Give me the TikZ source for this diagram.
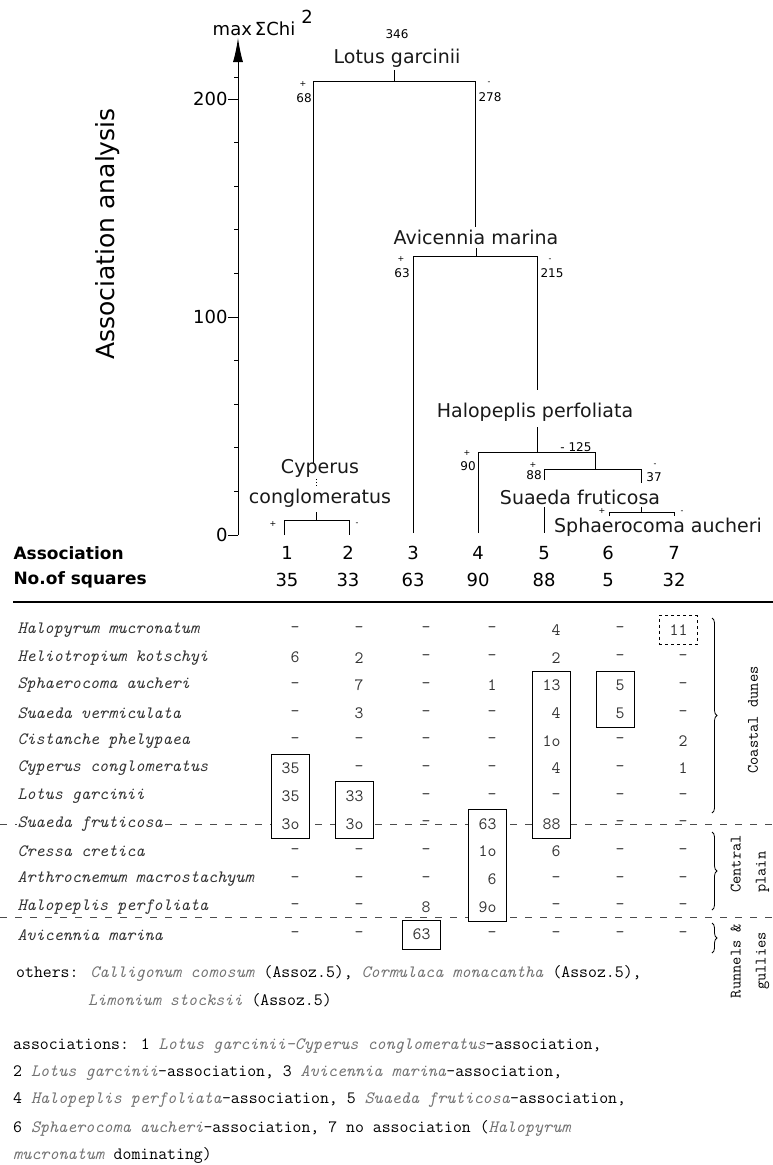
\documentclass[tikz,border=0pt]{standalone}
\usepackage{fontspec}
\setsansfont{DejaVu Sans}
\usetikzlibrary{arrows.meta,positioning,fit,decorations.pathreplacing}
\pgfdeclarelayer{background}
\pgfsetlayers{background,main}
\newcommand{\taxit}[1]{\textcolor{black!55}{\textit{#1}}}

\begin{document}
\begin{tikzpicture}[x=1pt,y=-1pt,line width=1pt,
  taxon/.style={font=\sffamily\fontsize{19}{30}\selectfont,text=black!90,inner sep=0pt,align=center},
  chi/.style={font=\sffamily\fontsize{12}{14}\selectfont,inner sep=0pt},
  sgn/.style={font=\sffamily\fontsize{8}{10}\selectfont,inner sep=0pt},
  axlab/.style={font=\sffamily\fontsize{18}{20}\selectfont,inner sep=0pt},
  hdr/.style={font=\sffamily\bfseries\fontsize{17}{20}\selectfont,inner sep=0pt,anchor=west},
  colnum/.style={font=\sffamily\fontsize{18}{20}\selectfont,inner sep=0pt},
  species/.style={font=\ttfamily\itshape\fontsize{17.3}{20}\selectfont,text=black!80,anchor=west,inner xsep=1pt,inner ysep=0pt,fill=white},
  cell/.style={font=\ttfamily\fontsize{17.3}{20}\selectfont,text=black!80,text width=19pt,align=right,inner xsep=9pt,inner ysep=0pt,minimum height=28pt},
  valbox/.style={draw,line width=0.8pt,fill=white,inner sep=0pt},
  zone/.style={decorate,decoration={brace,amplitude=5pt},line width=0.8pt},
  zonelab/.style={font=\ttfamily\fontsize{16}{25}\selectfont,rotate=90,inner sep=0pt},
  note/.style={font=\ttfamily\fontsize{17.3}{20}\selectfont,anchor=west,inner sep=0pt},
  sep/.style={dash pattern=on 7pt off 8pt,line width=1pt,black!70}]
\useasboundingbox (0,0) rectangle (773,1165);

% Axis
\coordinate (y0) at (238,535);
\coordinate (ytop) at (238,38);
\draw[-{Latex[length=24pt,width=10pt]}] (y0) -- (ytop);
\foreach \v in {0,100,200}
  \draw (238,{535-2.18*\v}) -- ++(-10,0) node[axlab,anchor=east] (t\v) {\v};
\foreach \v in {20,40,60,80,120,140,160,180,210}
  \draw (238,{535-2.18*\v}) -- ++(-4,0);
\node[axlab] (ymax) at (254,29) {max\,ΣChi};
\node[axlab] (ysq) at (307,17) {2};
\node[font=\sffamily\fontsize{25}{28}\selectfont,rotate=90,inner sep=0pt] (title) at (108,234) {Association analysis};

% Dendrogram labels
\node[taxon] (lotus) at (397,58) {Lotus garcinii};
\node[chi] (c346) at (397,34) {346};
\node[taxon] (avi) at (476,237) {Avicennia marina};
\node[taxon] (hal) at (535,412) {Halopeplis perfoliata};
\node[taxon] (cyp) at (320,483) {Cyperus\\conglomeratus};
\node[taxon] (sua) at (580,497) {Suaeda fruticosa};
\node[taxon] (sph) at (658,527) {Sphaerocoma aucheri};

% Junctions
\coordinate (lotusT) at (394,70);  \coordinate (lotusJ) at (394,81);
\coordinate (lotusL) at (313,81);  \coordinate (lotusR) at (475,81);
\coordinate (cypT) at (313,463);   \coordinate (aviT) at (475,227);
\coordinate (cypJT) at (316,512);  \coordinate (cypJ) at (316,520);
\coordinate (cypL) at (284,520);   \coordinate (cypR) at (349,520);
\coordinate (l1) at (284,535);     \coordinate (l2) at (349,535);
\coordinate (aviJT) at (476,248);  \coordinate (aviJ) at (476,256);
\coordinate (aviL) at (413,256);   \coordinate (aviR) at (537,256);
\coordinate (l3) at (413,533);     \coordinate (halT) at (537,390);
\coordinate (halJT) at (537,427);  \coordinate (halJ) at (537,452);
\coordinate (halL) at (478,452);   \coordinate (halR) at (595,452);
\coordinate (l4) at (478,533);     \coordinate (suaT) at (595,469);
\coordinate (suaL) at (544,469);   \coordinate (suaR) at (641,469);
\coordinate (suaL1) at (544,480);  \coordinate (suaR1) at (641,483);
\coordinate (l5top) at (544,507);  \coordinate (l5) at (544,533);
\coordinate (sphJT) at (641,507);  \coordinate (sphJ) at (641,512);
\coordinate (sphL) at (609,512);   \coordinate (sphR) at (674,512);
\coordinate (l6) at (609,516);     \coordinate (l7) at (674,516);

% Dendrogram
\draw (lotusT) -- (lotusJ);
\draw (cypT) -- (lotusL) -- (lotusR) -- (aviT);
\draw[dotted] (316,479) -- (316,487);
\draw (cypJT) -- (cypJ);
\draw (l1) -- (cypL) -- (cypR) -- (l2);
\draw (aviJT) -- (aviJ);
\draw (l3) -- (aviL) -- (aviR) -- (halT);
\draw (halJT) -- (halJ);
\draw (l4) -- (halL) -- (halR) -- (suaT);
\draw (suaL1) -- (suaL) -- (suaR) -- (suaR1);
\draw (l5top) -- (l5);
\draw (sphJT) -- (sphJ);
\draw (l6) -- (sphL) -- (sphR) -- (l7);

% Signs and chi values
\foreach \x/\y/\s [count=\k] in {303/84/+,489/83/-,401/259/+,550/260/-,467/453/+,533/465/+,655/465/-,273/524/+,357/524/-,602/511/+,682/512/-}
  \node[sgn] (sg\k) at (\x,\y) {\s};
\foreach \x/\y/\s [count=\k] in {304/98/68,490/97/278,402/273/63,552/273/215,468/466/90,576/447/- 125,534/475/88,654/477/37}
  \node[chi] (cv\k) at (\x,\y) {\s};

% Associations
\node[hdr] (assoc) at (13,553) {Association};
\node[hdr] (nsq) at (13,580) {No.of squares};
\foreach \i/\x/\n in {1/287/35,2/348/33,3/413/63,4/478/90,5/544/88,6/608/5,7/674/32} {
  \node[colnum] (an\i) at (\x,553) {\i};
  \node[colnum] (nq\i) at (\x,580) {\n};
}
\coordinate (hl) at (13,602);
\coordinate (hr) at (773,602);
\draw[line width=1.5pt] (hl) -- (hr);

% Table
\foreach \name [count=\r] in {Halopyrum mucronatum,Heliotropium kotschyi,Sphaerocoma aucheri,Suaeda vermiculata,Cistanche phelypaea,Cyperus conglomeratus,Lotus garcinii,Suaeda fruticosa,Cressa cretica,Arthrocnemum macrostachyum,Halopeplis perfoliata,Avicennia marina}
  \node[species] (sp\r) at (16,{630+27.7*(\r-1)}) {\name};
\foreach \vals [count=\r] in {{-,-,-,-,4,-,11},{6,2,-,-,2,-,-},{-,7,-,1,13,5,-},{-,3,-,-,4,5,-},{-,-,-,-,1o,-,2},{35,-,-,-,4,-,1},{35,33,-,-,-,-,-},{3o,3o,-,63,88,-,-},{-,-,-,1o,6,-,-},{-,-,-,6,-,-,-},{-,-,8,9o,-,-,-},{-,-,63,-,-,-,-}}
  \foreach \v [count=\c] in \vals {
    \pgfmathsetmacro\cx{{290,354,421,487,551,615,678}[\c-1]}
    \node[cell] (v\r-\c) at (\cx,{630+27.7*(\r-1)}) {\v};
  }

\begin{pgfonlayer}{background}
  \draw[sep] (0,824) -- (773,824);
  \draw[sep] (0,917) -- (773,917);
  \node[valbox,fit=(v6-1)(v8-1)] (box1) {};
  \node[valbox,fit=(v7-2)(v8-2)] (box2) {};
  \node[valbox,fit=(v12-3)] (box3) {};
  \node[valbox,fit=(v8-4)(v11-4)] (box4) {};
  \node[valbox,fit=(v3-5)(v8-5)] (box5) {};
  \node[valbox,fit=(v3-6)(v4-6)] (box6) {};
  \node[valbox,dashed,fit=(v1-7)] (box7) {};
\end{pgfonlayer}

% Zones
\draw[zone] (712,618) -- (712,813);
\draw[zone] (712,832) -- (712,910);
\draw[zone] (712,923) -- (712,953);
\node[zonelab] (coast) at (753,720) {Coastal dunes};
\node[zonelab,align=left,anchor=west] (plain) at (750,893) {Central\\plain};
\node[zonelab,align=center] (runnels) at (750,961) {Runnels \&\\gullies};

% Notes
\node[note] (oth1) at (16,973) {others: \taxit{Calligonum comosum} (Assoz.5), \taxit{Cormulaca monacantha} (Assoz.5),};
\node[note] (oth2) at (88,1000) {\taxit{Limonium stocksii} (Assoz.5)};
\node[note] (leg1) at (13,1046) {associations: 1 \taxit{Lotus garcinii-Cyperus conglomeratus}-association,};
\node[note] (leg2) at (13,1073) {2 \taxit{Lotus garcinii}-association, 3 \taxit{Avicennia marina}-association,};
\node[note] (leg3) at (13,1100) {4 \taxit{Halopeplis perfoliata}-association, 5 \taxit{Suaeda fruticosa}-association,};
\node[note] (leg4) at (13,1128) {6 \taxit{Sphaerocoma aucheri}-association, 7 no association (\taxit{Halopyrum}};
\node[note] (leg5) at (13,1155) {\taxit{mucronatum} dominating)};
\end{tikzpicture}
\end{document}
